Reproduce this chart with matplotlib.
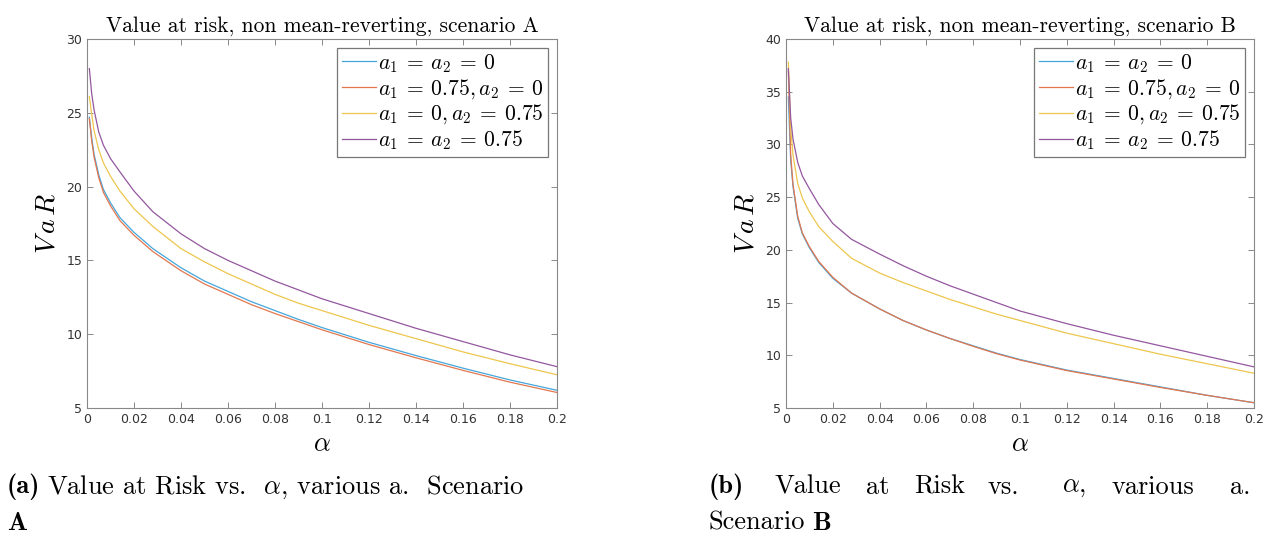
import numpy as np
import matplotlib
matplotlib.use("Agg")
import matplotlib.pyplot as plt

plt.rcParams['mathtext.fontset'] = 'cm'

# alpha grid
alpha = [0.001, 0.002, 0.003, 0.005, 0.007, 0.01, 0.014, 0.02, 0.028, 0.04,
         0.05, 0.06, 0.07, 0.08, 0.09, 0.1, 0.12, 0.14, 0.16, 0.18, 0.2]

# scenario A
varA_00 = [24.7, 23.3, 22.2, 20.8, 19.8, 18.9, 17.9, 16.9, 15.8, 14.5,
           13.6, 12.9, 12.2, 11.6, 11.0, 10.45, 9.45, 8.55, 7.7, 6.9, 6.2]
varA_750 = [24.6, 23.1, 22.0, 20.6, 19.6, 18.7, 17.7, 16.7, 15.6, 14.3,
            13.4, 12.7, 12.0, 11.4, 10.85, 10.3, 9.3, 8.4, 7.55, 6.75, 6.05]
varA_075 = [26.1, 24.9, 23.8, 22.5, 21.6, 20.7, 19.7, 18.5, 17.3, 15.8,
            14.9, 14.1, 13.4, 12.7, 12.1, 11.6, 10.6, 9.7, 8.8, 8.0, 7.25]
varA_7575 = [28.0, 26.3, 25.2, 23.7, 22.8, 21.9, 21.0, 19.7, 18.3, 16.8,
             15.8, 15.0, 14.3, 13.6, 13.0, 12.4, 11.4, 10.4, 9.5, 8.6, 7.8]

# scenario B
varB_00 = [34.5, 28.5, 26.0, 23.0, 21.5, 20.2, 18.8, 17.3, 15.9, 14.4,
           13.3, 12.4, 11.6, 10.9, 10.2, 9.6, 8.6, 7.8, 7.0, 6.2, 5.5]
varB_750 = [37.0, 29.0, 26.2, 23.2, 21.6, 20.3, 18.9, 17.4, 15.9, 14.4,
            13.3, 12.4, 11.6, 10.85, 10.15, 9.55, 8.55, 7.75, 6.95, 6.2, 5.5]
varB_075 = [37.8, 31.5, 29.0, 26.3, 24.9, 23.6, 22.2, 20.8, 19.2, 17.8,
            16.9, 16.1, 15.3, 14.6, 13.9, 13.3, 12.1, 11.1, 10.1, 9.2, 8.3]
varB_7575 = [37.2, 32.5, 30.5, 28.3, 27.0, 25.8, 24.3, 22.5, 21.0, 19.6,
             18.5, 17.5, 16.6, 15.8, 15.0, 14.2, 13.0, 11.9, 10.9, 9.9, 8.9]

labels = [r'$a_1 \:=\: a_2 \:=\: 0$', r'$a_1 \:=\: 0.75, a_2 \:=\: 0$',
          r'$a_1 \:=\: 0, a_2 \:=\: 0.75$', r'$a_1 \:=\: a_2 \:=\: 0.75$']
colors = ['#45a6dc', '#e2774f', '#edc64e', '#94579f']
xticks = [0, 0.02, 0.04, 0.06, 0.08, 0.1, 0.12, 0.14, 0.16, 0.18, 0.2]
xticklabels = ['0', '0.02', '0.04', '0.06', '0.08', '0.1', '0.12', '0.14', '0.16', '0.18', '0.2']

fig = plt.figure(figsize=(12.71, 5.37), dpi=100)
W, H = 1271, 537


def panel(rect, series, ylim, title):
    ax = fig.add_axes(rect)
    for ys, c, lab in zip(series, colors, labels):
        ax.plot(alpha, ys, color=c, linewidth=0.9, label=lab)
    ax.set_xlim(0, 0.2)
    ax.set_ylim(*ylim)
    ax.set_xticks(xticks)
    ax.set_xticklabels(xticklabels)
    ax.set_yticks(np.arange(ylim[0], ylim[1] + 1, 5))
    ax.tick_params(direction='in', top=True, right=True, length=4, width=0.6,
                   colors='#777777', labelcolor='#333333', labelsize=9)
    for s in ax.spines.values():
        s.set_color('#888888')
        s.set_linewidth(0.8)
    ax.set_title(title, fontfamily='cmr10', fontsize=15.5, pad=5)
    ax.set_xlabel(r'$\alpha$', fontsize=19, labelpad=4)
    ax.set_ylabel(r'$V\,a\,R$', fontsize=20, labelpad=4)
    leg = ax.legend(loc='upper right', fontsize=15.5, handlelength=1.6,
                    handletextpad=0.1, labelspacing=0.1, borderpad=0.2,
                    borderaxespad=0.4, fancybox=False, framealpha=1)
    leg.get_frame().set_edgecolor('#777777')
    leg.get_frame().set_linewidth(0.9)
    return ax


panel([87 / W, 1 - 408 / H, 470 / W, 369 / H],
      [varA_00, varA_750, varA_075, varA_7575], (5, 30),
      'Value at risk, non mean-reverting, scenario A')
panel([786 / W, 1 - 408 / H, 468 / W, 369 / H],
      [varB_00, varB_750, varB_075, varB_7575], (5, 40),
      'Value at risk, non mean-reverting, scenario B')

# captions
cap = 19
y1 = 1 - 487 / H
y2 = 1 - 523 / H
fig.text(7 / W, y1, '(a)', fontfamily='cmb10', fontsize=cap, va='center')
fig.text(47 / W, y1, r'Value at Risk vs.  $\alpha$, various a.  Scenario',
         fontfamily='cmr10', fontsize=cap, va='center')
fig.text(7 / W, y2, 'A', fontfamily='cmb10', fontsize=cap, va='center')

words = ['Value', 'at', 'Risk', 'vs.', r'$\alpha$,', 'various', 'a.']
word_x = [774, 866, 914, 988, 1062, 1112, 1230]
fig.text(709 / W, y1, '(b)', fontfamily='cmb10', fontsize=cap, va='center')
for w, x in zip(words, word_x):
    fig.text(x / W, y1, w, fontfamily='cmr10', fontsize=cap, va='center')
fig.text(709 / W, y2, 'Scenario', fontfamily='cmr10', fontsize=cap, va='center')
fig.text(812 / W, y2, 'B', fontfamily='cmb10', fontsize=cap, va='center')

fig.savefig('out.png', dpi=100)
